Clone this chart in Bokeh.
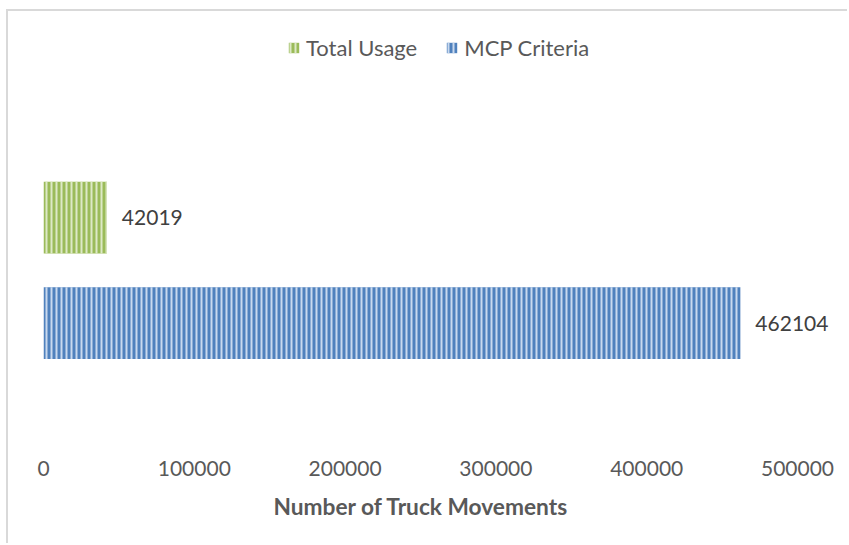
from bokeh.plotting import figure
from bokeh.models import (ColumnDataSource, Range1d, FixedTicker, NumeralTickFormatter,
                          LabelSet, Legend, LegendItem, Title)
from bokeh.core.properties import value
from bokeh.embed import file_html
from bokeh.resources import INLINE

# ---- data ----
series = ["MCP Criteria", "Total Usage"]
values = [462104, 42019]
colors = ["#4F81BD", "#9BBB59"]
hatch_colors = ["#C9D9EE", "#DDE9C6"]
x_ticks = [0, 100000, 200000, 300000, 400000, 500000]
x_title = "Number of Truck Movements"

FONT = "Lato"
TXT = "#595959"

ypos = list(range(len(series)))
labels = [str(v) for v in values]

src = ColumnDataSource(dict(y=ypos, v=values, label=labels))

p = figure(width=841, height=534, output_backend="svg", toolbar_location=None,
           x_range=Range1d(0, 533150), y_range=Range1d(-1.0, 2.953),
           min_border_left=35, min_border_right=2, min_border_top=0,
           min_border_bottom=117)
p.styles = {"border-left": "2px solid #D9D9D9", "border-top": "2px solid #D9D9D9",
            "margin-left": "6px", "margin-top": "9px"}

renderers = []
for i in range(len(series)):
    r = p.hbar(y=ypos[i], right=values[i], left=0, height=0.68,
               fill_color=colors[i], line_color=None,
               hatch_pattern="vertical_line", hatch_color=hatch_colors[i],
               hatch_scale=5, hatch_weight=2)
    renderers.append(r)

p.add_layout(LabelSet(x="v", y="y", text="label", source=src, x_offset=15,
                      text_baseline="middle", text_font=value(FONT),
                      text_font_size="21px", text_color="#404040"))

legend = Legend(items=[LegendItem(label=series[1], renderers=[renderers[1]]),
                       LegendItem(label=series[0], renderers=[renderers[0]])],
                orientation="horizontal", location=(244, 367),
                label_text_font=FONT, label_text_font_size="22px",
                label_text_color=TXT, glyph_width=13, glyph_height=13,
                label_standoff=6, spacing=28, padding=0, margin=0,
                border_line_color=None, background_fill_alpha=0)
p.add_layout(legend, "center")

p.xaxis.ticker = FixedTicker(ticks=x_ticks)
p.xaxis.formatter = NumeralTickFormatter(format="0")
p.xaxis.axis_line_color = None
p.xaxis.major_tick_line_color = None
p.xaxis.minor_tick_line_color = None
p.xaxis.major_label_standoff = 26
p.xaxis.major_label_text_font = FONT
p.xaxis.major_label_text_font_size = "21px"
p.xaxis.major_label_text_color = TXT
p.yaxis.visible = False
p.grid.visible = False
p.outline_line_color = None

p.add_layout(Title(text=x_title, align="left", offset=230, standoff=24,
                   text_font=FONT, text_font_size="22.7px", text_font_style="bold",
                   text_color=TXT), "below")

open("out.html", "w").write(file_html(p, INLINE))
